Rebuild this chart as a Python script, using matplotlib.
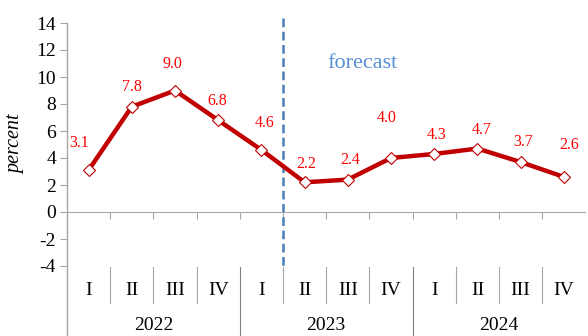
import numpy as np
import matplotlib.pyplot as plt
import matplotlib.transforms as mtransforms

plt.rcParams['font.family'] = ['Liberation Serif', 'DejaVu Serif']
plt.rcParams['axes.unicode_minus'] = False

quarters = ['I', 'II', 'III', 'IV'] * 3
years = ['2022', '2023', '2024']
values = [3.1, 7.8, 9.0, 6.8, 4.6, 2.2, 2.4, 4.0, 4.3, 4.7, 3.7, 2.6]
labels = ['3.1', '7.8', '9.0', '6.8', '4.6', '2.2', '2.4', '4.0', '4.3', '4.7', '3.7', '2.6']
forecast_start = 4.5

# label offsets in pixels (dx, dy)
label_off = [(-9, 27), (0, 20), (-3, 26), (-1, 19), (3, 27), (2, 18),
             (2, 20), (-4, 40), (2, 19), (4, 19), (3, 20), (5, 32)]

axis_col = '#A6A6A6'
red = '#C00000'

fig = plt.figure(figsize=(5.88, 3.36), dpi=100)
ax = fig.add_axes([67 / 588, 1 - 266 / 336, 518.4 / 588, 243 / 336])

x = np.arange(len(values))
ax.plot(x, values, color=red, lw=3.2, marker='D', markersize=6.5,
        markerfacecolor='white', markeredgecolor=red, markeredgewidth=0.8,
        zorder=3, solid_joinstyle='round')

for xi, v, lab, (dx, dy) in zip(x, values, labels, label_off):
    ax.annotate(lab, (xi, v), xytext=(dx, dy), textcoords='offset pixels',
                ha='center', va='center', color='#FF0000', fontsize=11.5)

ax.set_xlim(-0.5, len(values) - 0.5)
ax.set_ylim(-4, 14)
ax.set_yticks(np.arange(-4, 15, 2))
ax.tick_params(axis='y', labelsize=14, color=axis_col, length=5, pad=3)

for s in ['top', 'right', 'left']:
    ax.spines[s].set_visible(False)
ax.spines['bottom'].set_position(('data', 0))
ax.spines['bottom'].set_color(axis_col)
ax.set_xticks(np.arange(0.5, len(values) - 1, 1))
ax.set_xticklabels([])
ax.tick_params(axis='x', color=axis_col, length=5, direction='out')

# y axis line extended down through the category rows
ax.plot([0, 0], [1, -0.3], transform=ax.transAxes, color=axis_col,
        lw=1, clip_on=False)

trans = mtransforms.blended_transform_factory(ax.transData, ax.transAxes)
for i, q in enumerate(quarters):
    ax.text(i, -0.099, q, transform=trans, ha='center', va='center', fontsize=14)
    if i > 0:
        if i % 4 == 0:
            ax.plot([i - 0.5, i - 0.5], [-0.004, -0.3], transform=trans,
                    color='#808080', lw=0.8, clip_on=False)
        else:
            ax.plot([i - 0.5, i - 0.5], [-0.004, -0.152], transform=trans,
                    color=axis_col, lw=0.8, clip_on=False)
for j, yr in enumerate(years):
    ax.text(4 * j + 1.5, -0.243, yr, transform=trans, ha='center', va='center',
            fontsize=14)

ax.plot([forecast_start, forecast_start], [14.4, -4.3], color='#4A7EBB', lw=1.8,
        dashes=(3.5, 1.8), clip_on=False, zorder=2)
ax.text(6.33, 11.0, 'forecast', color='#558ED5', fontsize=16,
        ha='center', va='center')

ax.set_ylabel('percent', fontsize=14.5, style='italic')
ax.yaxis.set_label_coords(-0.08, 0.5)

fig.savefig('out.png', dpi=100)
